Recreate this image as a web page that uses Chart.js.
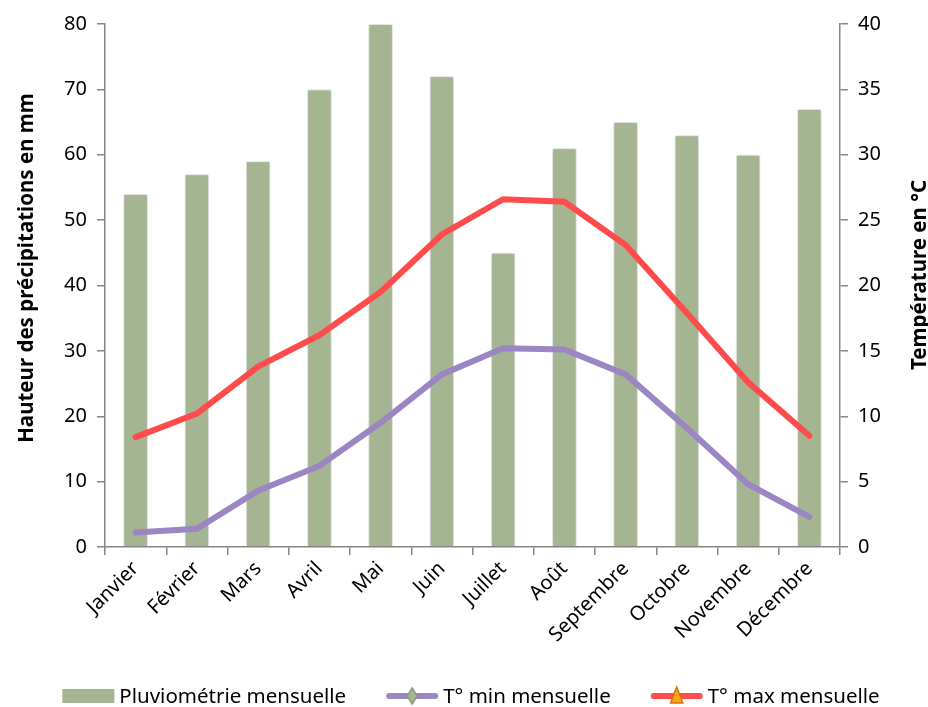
<!DOCTYPE html>
<html>
<head>
<meta charset="utf-8">
<script src="https://cdn.jsdelivr.net/npm/chart.js@4"></script>
<style>
  html, body { margin: 0; padding: 0; background: #fff; }
  #wrap { width: 928px; height: 707px; }
</style>
</head>
<body>
<div id="wrap"><canvas id="climChart" width="928" height="707"></canvas></div>
<script>
const mois = ['Janvier', 'Février', 'Mars', 'Avril', 'Mai', 'Juin', 'Juillet', 'Août', 'Septembre', 'Octobre', 'Novembre', 'Décembre'];
const pluvio = [54, 57, 59, 70, 80, 72, 45, 61, 65, 63, 60, 67];
const tMin = [1.1, 1.4, 4.3, 6.2, 9.5, 13.2, 15.2, 15.1, 13.2, 9.1, 4.8, 2.3];
const tMax = [8.4, 10.2, 13.8, 16.2, 19.5, 23.9, 26.6, 26.4, 23.1, 17.9, 12.6, 8.5];

const FONT = '"Noto Sans"';
const AXIS = '#868686';
const VERT = '#A5B592';
const VIOLET = '#9B86C3';
const ROUGE = '#FF4B4B';

const legendItems = [
  { text: 'Pluviométrie mensuelle', kind: 'bar', color: VERT },
  { text: 'T° min mensuelle', kind: 'diamond', color: VIOLET },
  { text: 'T° max mensuelle', kind: 'triangle', color: ROUGE }
];

// ombre légère sous les barres
const barShadow = {
  id: 'barShadow',
  beforeDatasetDraw(chart, args) {
    if (args.index !== 0) return;
    const ctx = chart.ctx;
    ctx.save();
    ctx.shadowColor = 'rgba(0,0,0,0.28)';
    ctx.shadowBlur = 4;
  },
  afterDatasetDraw(chart, args) {
    if (args.index !== 0) return;
    chart.ctx.restore();
  }
};

// titres d'axes + légende dessinés à la main
const extras = {
  id: 'extras',
  afterDraw(chart) {
    const ctx = chart.ctx;
    ctx.save();
    ctx.fillStyle = '#000';
    ctx.font = 'bold 20.5px ' + FONT;
    ctx.textAlign = 'center';
    ctx.textBaseline = 'middle';

    ctx.save();
    ctx.translate(27, 268);
    ctx.rotate(-Math.PI / 2);
    ctx.fillText('Hauteur des précipitations en mm', 0, 0);
    ctx.restore();

    ctx.save();
    ctx.translate(920, 275);
    ctx.rotate(-Math.PI / 2);
    ctx.fillText('Température en °C', 0, 0);
    ctx.restore();

    // légende
    ctx.font = '20.5px ' + FONT;
    const sw = 52, gap = 5, spacing = 40;
    let total = 0;
    legendItems.forEach((it, i) => {
      total += sw + gap + ctx.measureText(it.text).width + (i < legendItems.length - 1 ? spacing : 0);
    });
    let x = 471 - total / 2;
    const y = 696;
    ctx.textAlign = 'left';
    legendItems.forEach(it => {
      if (it.kind === 'bar') {
        ctx.fillStyle = it.color;
        ctx.fillRect(x, y - 7, sw, 14);
      } else {
        ctx.strokeStyle = it.color;
        ctx.lineWidth = 6;
        ctx.lineCap = 'round';
        ctx.beginPath();
        ctx.moveTo(x + 3, y);
        ctx.lineTo(x + sw - 3, y);
        ctx.stroke();
        const cx = x + sw / 2;
        ctx.lineWidth = 1.5;
        if (it.kind === 'diamond') {
          ctx.fillStyle = '#A5B592';
          ctx.strokeStyle = '#8A9B78';
          ctx.beginPath();
          ctx.moveTo(cx, y - 8); ctx.lineTo(cx + 5, y); ctx.lineTo(cx, y + 8); ctx.lineTo(cx - 5, y);
          ctx.closePath(); ctx.fill(); ctx.stroke();
        } else {
          ctx.fillStyle = '#F5A623';
          ctx.strokeStyle = '#E07000';
          ctx.beginPath();
          ctx.moveTo(cx, y - 9); ctx.lineTo(cx + 6, y + 7); ctx.lineTo(cx - 6, y + 7);
          ctx.closePath(); ctx.fill(); ctx.stroke();
        }
      }
      ctx.fillStyle = '#000';
      ctx.fillText(it.text, x + sw + gap, y + 1);
      x += sw + gap + ctx.measureText(it.text).width + spacing;
    });
    ctx.restore();
  }
};

const ctx = document.getElementById('climChart');
new Chart(ctx, {
  type: 'bar',
  data: {
    labels: mois,
    datasets: [{
      type: 'bar',
      label: 'Pluviométrie mensuelle',
      data: pluvio,
      backgroundColor: VERT,
      borderColor: '#ffffff',
      borderWidth: 1,
      barPercentage: 0.4,
      categoryPercentage: 1,
      yAxisID: 'y',
      order: 3
    },
    {
      type: 'line',
      label: 'T° min mensuelle',
      data: tMin,
      borderColor: VIOLET,
      backgroundColor: VIOLET,
      borderWidth: 6,
      pointRadius: 0,
      borderCapStyle: 'round',
      tension: 0,
      yAxisID: 'y1',
      order: 2
    },
    {
      type: 'line',
      label: 'T° max mensuelle',
      data: tMax,
      borderColor: ROUGE,
      backgroundColor: ROUGE,
      borderWidth: 6,
      pointRadius: 0,
      borderCapStyle: 'round',
      tension: 0,
      yAxisID: 'y1',
      order: 1
    }]
  },
  options: {
    responsive: false,
    animation: false,
    layout: {
      padding: { top: 24, bottom: 50, left: 0, right: 0 }
    },
    plugins: {
      legend: { display: false },
      tooltip: { enabled: false }
    },
    scales: {
      x: {
        grid: {
          display: true,
          drawOnChartArea: false,
          offset: true,
          tickLength: 8,
          color: AXIS,
          lineWidth: 1.5
        },
        border: { color: AXIS, width: 1.5 },
        ticks: {
          color: '#000',
          font: { family: FONT, size: 20 },
          maxRotation: 45,
          minRotation: 45,
          padding: 2
        },
        afterFit(scale) { scale.height = 110; }
      },
      y: {
        position: 'left',
        min: 0,
        max: 80,
        ticks: {
          stepSize: 10,
          color: '#000',
          font: { family: FONT, size: 20 },
          padding: 10
        },
        grid: {
          drawOnChartArea: false,
          tickLength: 8,
          color: AXIS,
          lineWidth: 1.5
        },
        border: { color: AXIS, width: 1.5 },
        afterFit(scale) { scale.width = 105; }
      },
      y1: {
        position: 'right',
        min: 0,
        max: 40,
        ticks: {
          stepSize: 5,
          color: '#000',
          font: { family: FONT, size: 20 },
          padding: 10
        },
        grid: {
          drawOnChartArea: false,
          tickLength: 8,
          color: AXIS,
          lineWidth: 1.5
        },
        border: { color: AXIS, width: 1.5 },
        afterFit(scale) { scale.width = 88; }
      }
    }
  },
  plugins: [barShadow, extras]
});
</script>
</body>
</html>
